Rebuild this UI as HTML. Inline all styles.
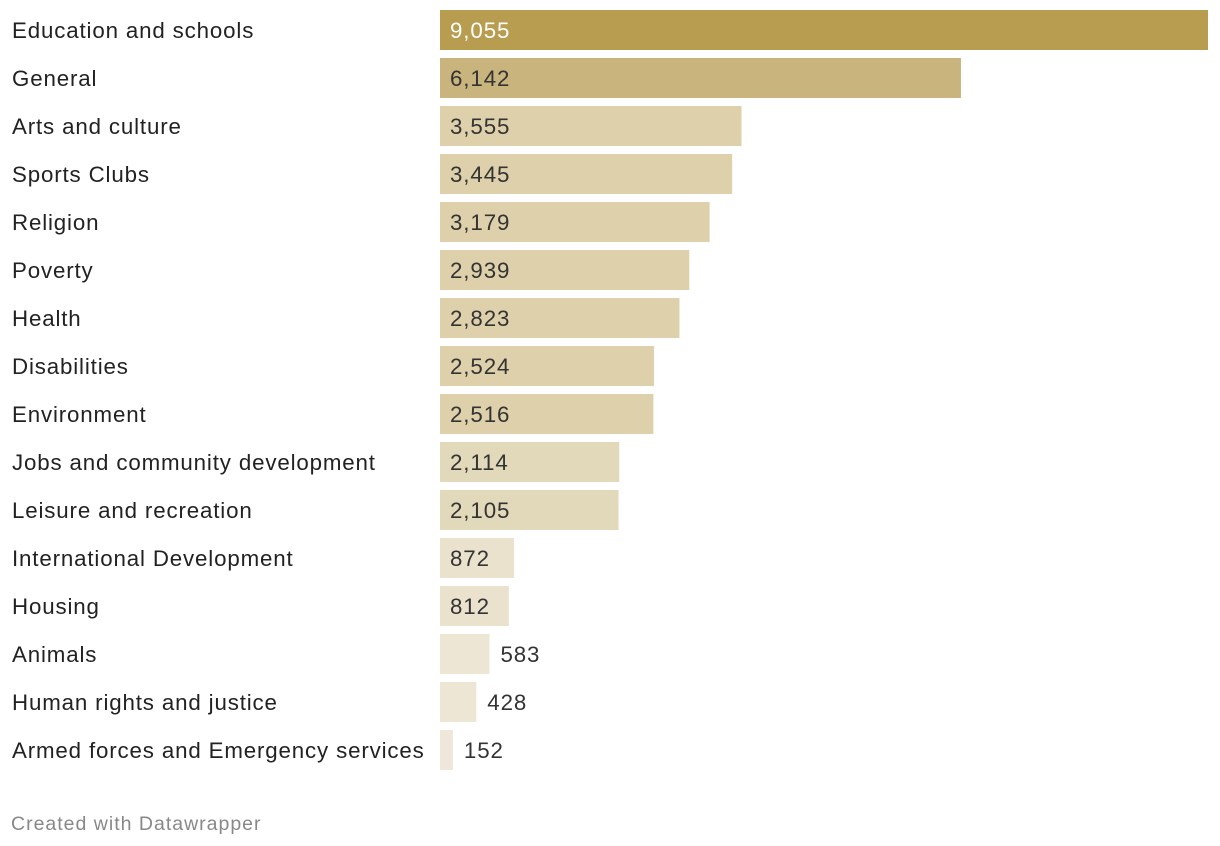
<!DOCTYPE html>
<html><head><meta charset="utf-8"><style>
body{margin:0;background:#fff;width:1220px;height:846px;overflow:hidden;font-family:"Liberation Sans",sans-serif;}
svg{display:block}
</style></head><body>
<svg id="chart" width="1220" height="846"></svg>
<script>
const categories=["Education and schools","General","Arts and culture","Sports Clubs","Religion","Poverty","Health","Disabilities","Environment","Jobs and community development","Leisure and recreation","International Development","Housing","Animals","Human rights and justice","Armed forces and Emergency services"];
const values=[9055,6142,3555,3445,3179,2939,2823,2524,2516,2114,2105,872,812,583,428,152];
const NS="http://www.w3.org/2000/svg";
const svg=document.getElementById('chart');
const x0=440,plotW=768,maxV=9055;
function xs(v){return v/maxV*plotW;}
function ys(i){return 10+i*48;}
function colorFor(v){
  if(v>=8000)return "#b89c50";
  if(v>=5000)return "#c9b47d";
  if(v>=2500)return "#ddd0ab";
  if(v>=2000)return "#e2d8ba";
  if(v>=700)return "#ebe2cd";
  if(v>=300)return "#ede6d4";
  return "#efe8da";
}
function fmt(v){return v.toLocaleString('en-US');}
categories.forEach((c,i)=>{
  const y=ys(i);
  const t=document.createElementNS(NS,'text');
  
  
  t.setAttribute('x',12);t.setAttribute('y',y+28);
  t.setAttribute('font-size','22.3');t.setAttribute('fill','#222');
  t.setAttribute('letter-spacing','0.85');
  t.textContent=c;svg.appendChild(t);
  const w=xs(values[i]);
  const r=document.createElementNS(NS,'rect');
  
  
  r.setAttribute('x',x0);r.setAttribute('y',y);r.setAttribute('width',w);r.setAttribute('height',40);
  r.setAttribute('fill',colorFor(values[i]));svg.appendChild(r);
  const vt=document.createElementNS(NS,'text');
  
  
  const inside=w>60;
  vt.setAttribute('x',inside?x0+10:x0+w+11);vt.setAttribute('y',y+28);
  vt.setAttribute('font-size','22.3');
  vt.setAttribute('letter-spacing','0.9');
  vt.setAttribute('fill',values[i]>=8000?'#fff':'#333');
  vt.textContent=fmt(values[i]);svg.appendChild(vt);
});
const f=document.createElementNS(NS,'text');


f.setAttribute('x',11);f.setAttribute('y',830);f.setAttribute('font-size','19.5');f.setAttribute('fill','#888');
f.setAttribute('letter-spacing','1');
f.textContent='Created with Datawrapper';svg.appendChild(f);
</script>
</body></html>
